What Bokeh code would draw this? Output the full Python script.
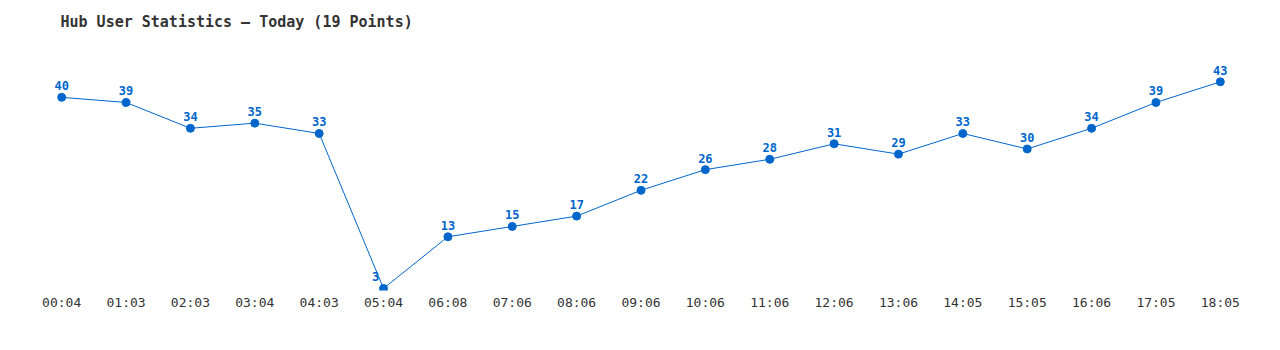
from bokeh.plotting import figure
from bokeh.models import ColumnDataSource, Range1d, FactorRange
from bokeh.core.properties import value
from bokeh.embed import file_html
from bokeh.resources import INLINE

times = ["00:04", "01:03", "02:03", "03:04", "04:03", "05:04", "06:08", "07:06",
         "08:06", "09:06", "10:06", "11:06", "12:06", "13:06", "14:05", "15:05",
         "16:06", "17:05", "18:05"]
users = [40, 39, 34, 35, 33, 3, 13, 15, 17, 22, 26, 28, 31, 29, 33, 30, 34, 39, 43]

title_text = "Hub User Statistics \u2013 Today (19 Points)"
MONO = "DejaVu Sans Mono"
BLUE = "#0066cc"

# label of the lowest point is nudged left so it does not sit on the line
min_i = users.index(min(users))
label_dx = [-8 if i == min_i else 0 for i in range(len(users))]

src = ColumnDataSource(dict(t=times, v=users, lbl=[str(u) for u in users],
                            dx=label_dx))

p = figure(width=1280, height=350, output_backend="svg", toolbar_location=None,
           x_range=FactorRange(*times, range_padding=0),
           y_range=Range1d(2.6, 51.0),
           title=title_text,
           min_border_left=29, min_border_right=28, min_border_top=10,
           min_border_bottom=60)

p.title.text_font = MONO
p.title.text_font_size = "15px"
p.title.text_font_style = "bold"
p.title.text_color = "#333333"
p.title.offset = 31
p.title.standoff = 20

p.line("t", "v", source=src, line_color=BLUE, line_width=1)
p.scatter("t", "v", source=src, size=8, fill_color=BLUE, line_color=BLUE)
p.text("t", "v", text="lbl", source=src, x_offset="dx", y_offset=-7,
       text_font=value(MONO), text_font_size="12px", text_font_style="bold",
       text_color=BLUE, text_align="center", text_baseline="bottom")

p.yaxis.visible = False
p.xaxis.axis_line_color = None
p.xaxis.major_tick_line_color = None
p.xaxis.minor_tick_line_color = None
p.xaxis.major_label_text_font = MONO
p.xaxis.major_label_text_font_size = "13px"
p.xaxis.major_label_text_font_style = "normal"
p.xaxis.major_label_text_color = "#333333"
p.xaxis.major_label_standoff = -2
p.xgrid.visible = False
p.ygrid.visible = False
p.outline_line_color = None
p.background_fill_color = "white"
p.border_fill_color = "white"

open("out.html", "w").write(file_html(p, INLINE))
